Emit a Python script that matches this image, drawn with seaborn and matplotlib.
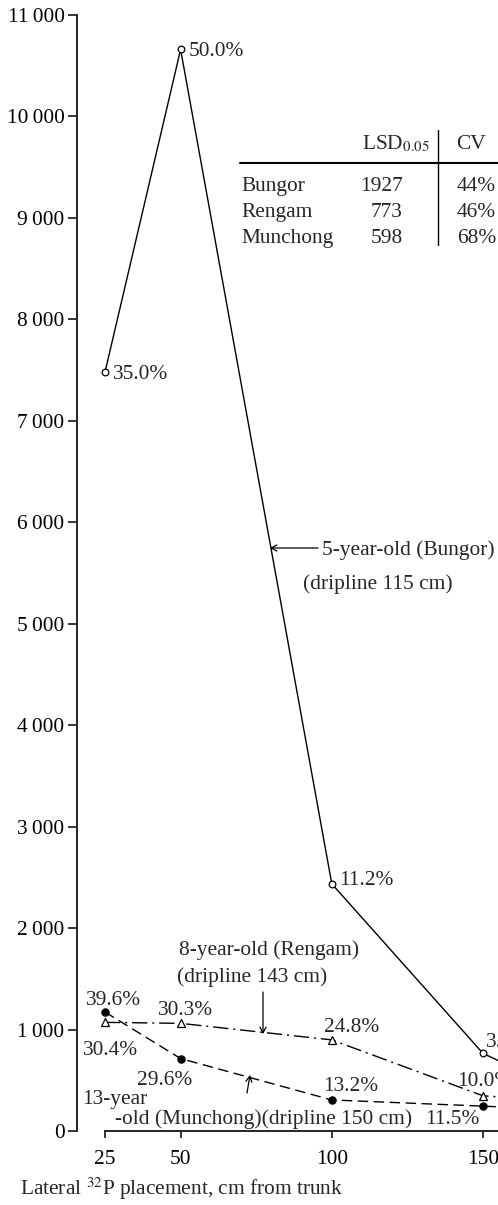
import matplotlib
matplotlib.use("Agg")
import matplotlib.pyplot as plt
import pandas as pd
import seaborn as sns

# Lateral placement of the 32P tracer, cm from trunk
distance_cm = [25, 50, 100, 150, 200]

# Root activity recovered at each placement
bungor = [7480, 10660, 2436, 765, 60]
rengam = [1071, 1061, 898, 347, 250]
munchong = [1173, 714, 306, 245, 180]

# Share of total activity at each placement
bungor_pct = ["35.0%", "50.0%", "11.2%", "3.8%"]
rengam_pct = ["30.4%", "30.3%", "24.8%", "10.0%"]
munchong_pct = ["39.6%", "29.6%", "13.2%", "11.5%"]

x_ticks = [25, 50, 100, 150]
y_ticks = [0, 1000, 2000, 3000, 4000, 5000, 6000, 7000, 8000, 9000, 10000, 11000]
y_tick_labels = ["0", "1\u2009000", "2\u2009000", "3\u2009000", "4\u2009000", "5\u2009000",
                 "6\u2009000", "7\u2009000", "8\u2009000", "9\u2009000", "10\u2009000", "11\u2009000"]

# LSD / CV summary
table_sites = ["Bungor", "Rengam", "Munchong"]
table_lsd = ["1927", "773", "598"]
table_cv = ["44%", "46%", "68%"]

sns.set_theme(style="ticks")
plt.rcParams["font.family"] = ["Liberation Serif", "DejaVu Serif"]
plt.rcParams["mathtext.fontset"] = "stix"
FS = 15.4

W, H = 498, 1205
fig = plt.figure(figsize=(W / 100, H / 100), dpi=100)
fig.patch.set_facecolor("white")


def fx(px):
    return px / W


def fy(py):
    return 1 - py / H


ax = fig.add_axes([fx(77), 74 / H, (W - 77) / W, (1131 - 15) / H])
ax.set_facecolor("white")

df = pd.DataFrame({
    "distance": distance_cm * 3,
    "activity": bungor + rengam + munchong,
    "site": ["Bungor"] * 5 + ["Rengam"] * 5 + ["Munchong"] * 5,
})

styles = {
    "Bungor": dict(linestyle="-", marker="o", markersize=4.8, markerfacecolor="white", lw=1.0),
    "Rengam": dict(linestyle=(0, (11, 3.5, 1.5, 3.5)), marker="^", markersize=5.2,
                   markerfacecolor="white", lw=1.0),
    "Munchong": dict(linestyle=(0, (7.5, 4)), marker="o", markersize=5.2,
                     markerfacecolor="black", lw=1.0),
}
for site, st in styles.items():
    sub = df[df["site"] == site]
    sns.lineplot(data=sub, x="distance", y="activity", ax=ax, color="black",
                 markeredgecolor="black", markeredgewidth=0.9, legend=False, **st)

ax.set_xlim(15.74, 154.96)
ax.set_ylim(0, 11000)
ax.set_xticks(x_ticks)
ax.set_xticklabels([str(v) for v in x_ticks], fontsize=FS)
ax.set_yticks(y_ticks)
ax.set_yticklabels(y_tick_labels, fontsize=FS)
ax.set_xlabel("")
ax.set_ylabel("")
for s in ["top", "right"]:
    ax.spines[s].set_visible(False)
ax.spines["left"].set_linewidth(1.4)
ax.spines["bottom"].set_linewidth(1.4)
ax.spines["left"].set_bounds(0, 11000)
ax.spines["bottom"].set_bounds(25, 160)
ax.tick_params(axis="y", length=6.5, width=1.1, pad=2.5, colors="black")
ax.tick_params(axis="x", length=5, width=1.1, pad=8.5, colors="black")

# Percentage labels (offsets in pixels: left edge, text centre)
offsets = {
    "Bungor": (bungor, bungor_pct, [(8, 0), (8, 0), (7, 6), (3, 13)]),
    "Rengam": (rengam, rengam_pct, [(-22, -26), (-23, 15), (-8, 15), (-26, 17)]),
    "Munchong": (munchong, munchong_pct, [(-19, 14), (-44, -19), (-9, 16), (-58, -11)]),
}
for site, (vals, pcts, offs) in offsets.items():
    for x, v, p, (dx, dy) in zip(distance_cm, vals, pcts, offs):
        ax.annotate(p, xy=(x, v), xytext=(dx, dy - 7), textcoords="offset pixels",
                    ha="left", va="baseline", fontsize=FS, annotation_clip=False)


def ftext(px, py, s, ha="left"):
    fig.text(fx(px), fy(py + 7), s, ha=ha, va="baseline", fontsize=FS)


def farrow(x0, y0, x1, y1):
    fig.add_artist(matplotlib.patches.FancyArrowPatch(
        (fx(x0), fy(y0)), (fx(x1), fy(y1)), transform=fig.transFigure,
        arrowstyle="->,head_length=4,head_width=2.2", lw=0.9, color="black",
        shrinkA=0, shrinkB=0))


# Series labels
ftext(322, 548, "5-year-old (Bungor)")
ftext(303, 582, "(dripline 115 cm)")
farrow(318, 548, 270, 548)

ftext(179, 948, "8-year-old (Rengam)")
ftext(177, 975, "(dripline 143 cm)")
farrow(263, 992, 263, 1034)

ftext(82, 1097, "13-year")
ftext(115, 1117, "-old (Munchong)(dripline 150 cm)")
farrow(247, 1093, 250, 1075)

# Axis title
ftext(20, 1188, "Lateral $^{32}$P placement, cm from trunk")

# LSD / CV table
ftext(362, 142, "LSD$_{0.05}$")
ftext(456, 142, "CV")
for i, (s, l, c) in enumerate(zip(table_sites, table_lsd, table_cv)):
    yy = [184, 210, 236][i]
    ftext(241, yy, s)
    ftext(403, yy, l, ha="right")
    ftext(457, yy, c)
fig.add_artist(matplotlib.lines.Line2D([fx(240), fx(498)], [fy(163), fy(163)],
                                       transform=fig.transFigure, color="black", lw=1.5))
fig.add_artist(matplotlib.lines.Line2D([fx(438), fx(438)], [fy(130), fy(245)],
                                       transform=fig.transFigure, color="black", lw=1.0))

fig.savefig("out.png", dpi=100, facecolor="white")
